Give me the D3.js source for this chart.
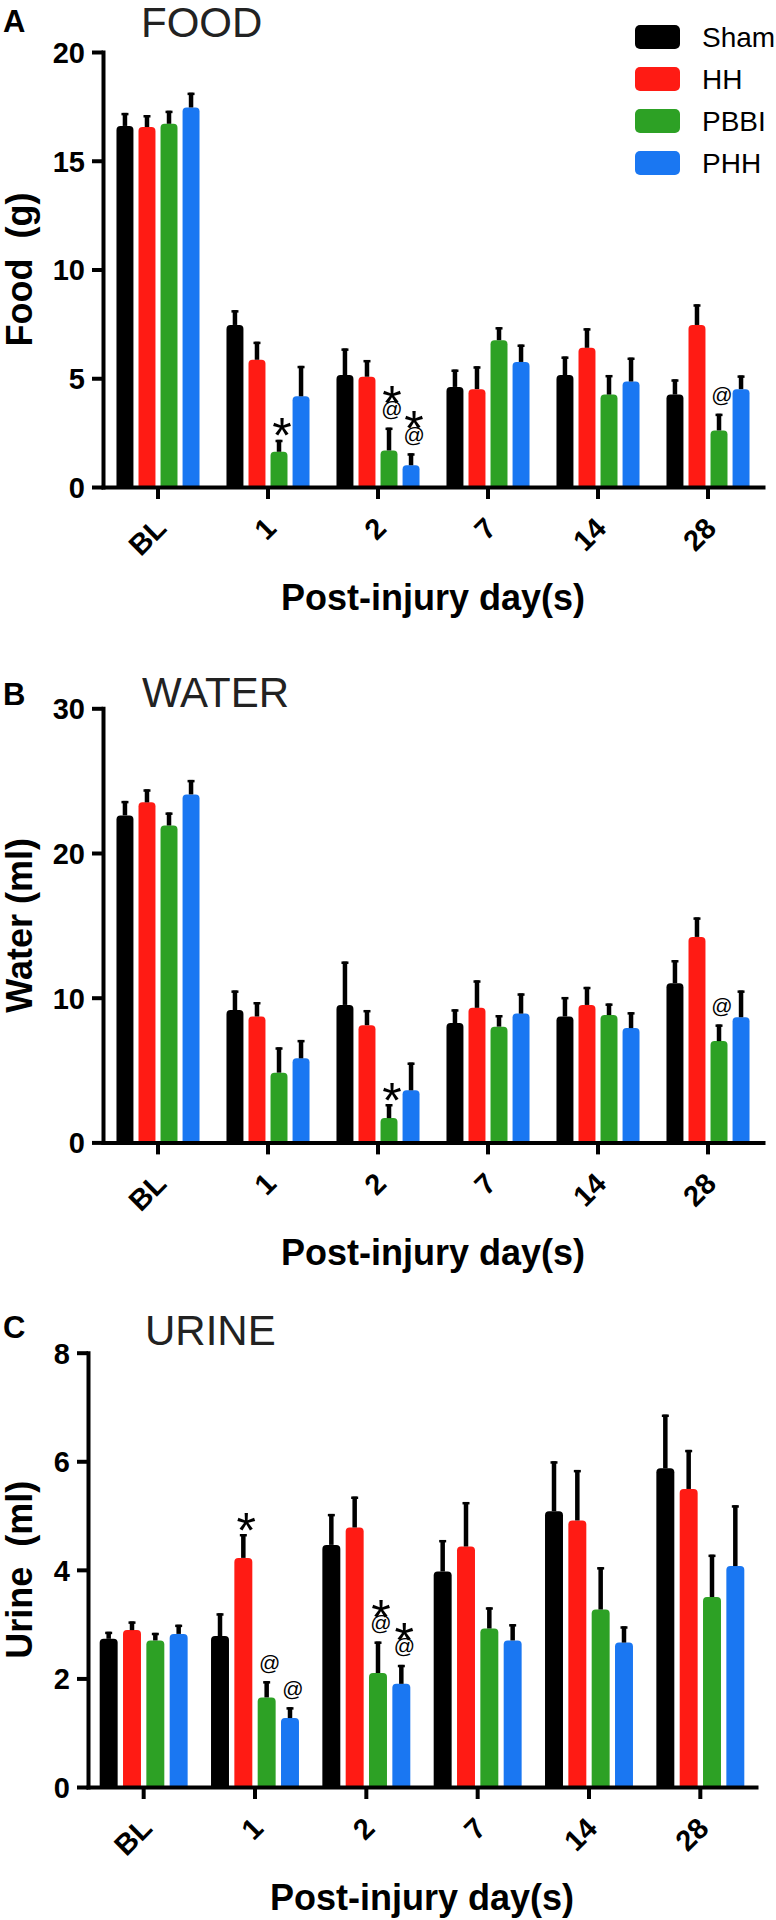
<!DOCTYPE html>
<html><head><meta charset="utf-8">
<script src="https://cdn.jsdelivr.net/npm/d3@7"></script>
<style>
html,body{margin:0;padding:0;background:#fff;}
svg{display:block;}
text{font-family:"Liberation Sans",Arial,Helvetica,sans-serif;}
</style></head><body>
<svg id="chart" width="776" height="1920"></svg>
<script>
// ---------- data ----------
const days = ["BL","1","2","7","14","28"];
const groups = ["Sham","HH","PBBI","PHH"];

const foodSham = [16.6, 7.45, 5.15, 4.6, 5.15, 4.25];
const foodHH   = [16.55, 5.85, 5.07, 4.5, 6.4, 7.45];
const foodPBBI = [16.7, 1.62, 1.68, 6.75, 4.25, 2.6];
const foodPHH  = [17.45, 4.17, 1.0, 5.75, 4.85, 4.5];
const foodShamErr = [0.6, 0.68, 1.22, 0.8, 0.85, 0.7];
const foodHHErr   = [0.55, 0.83, 0.77, 1.05, 0.9, 0.95];
const foodPBBIErr = [0.6, 0.55, 1.05, 0.6, 0.9, 0.77];
const foodPHHErr  = [0.68, 1.4, 0.55, 0.8, 1.1, 0.63];

const waterSham = [22.6, 9.15, 9.5, 8.25, 8.7, 11.0];
const waterHH   = [23.5, 8.7, 8.1, 9.3, 9.5, 14.2];
const waterPBBI = [21.9, 4.82, 1.68, 8.0, 8.8, 7.0];
const waterPHH  = [24.05, 5.81, 3.6, 8.9, 7.9, 8.65];
const waterShamErr = [1.0, 1.35, 3.0, 0.95, 1.35, 1.6];
const waterHHErr   = [0.9, 1.0, 1.05, 1.9, 1.25, 1.35];
const waterPBBIErr = [0.9, 1.75, 0.97, 0.8, 0.8, 1.15];
const waterPHHErr  = [1.0, 1.27, 1.92, 1.4, 1.1, 1.85];

const urineSham = [2.73, 2.78, 4.46, 3.97, 5.08, 5.87];
const urineHH   = [2.89, 4.22, 4.78, 4.43, 4.91, 5.49];
const urinePBBI = [2.7, 1.65, 2.1, 2.92, 3.27, 3.5];
const urinePHH  = [2.82, 1.27, 1.9, 2.7, 2.66, 4.07];
const urineShamErr = [0.13, 0.42, 0.57, 0.58, 0.92, 0.99];
const urineHHErr   = [0.16, 0.44, 0.57, 0.82, 0.93, 0.72];
const urinePBBIErr = [0.14, 0.3, 0.58, 0.39, 0.78, 0.78];
const urinePHHErr  = [0.17, 0.2, 0.35, 0.3, 0.3, 1.12];

const foodTicks  = [0, 5, 10, 15, 20];
const waterTicks = [0, 10, 20, 30];
const urineTicks = [0, 2, 4, 6, 8];

// significance marks: [day, group, symbols bottom-to-top]
const foodMarks  = [["1","PBBI","*"], ["2","PBBI","@*"], ["2","PHH","@*"], ["28","PBBI","@"]];
const waterMarks = [["2","PBBI","*"], ["28","PBBI","@"]];
const urineMarks = [["1","HH","*"], ["1","PBBI","@"], ["1","PHH","@"], ["2","PBBI","@*"], ["2","PHH","@*"]];

// ---------- style ----------
const colors = {Sham:"#000000", HH:"#ff1b14", PBBI:"#2da125", PHH:"#1a77f2"};
const FONT = '"Liberation Sans",Arial,Helvetica,sans-serif';
const svg = d3.select("#chart");

function drawPanel(cfg){
  const g = svg.append("g");
  const x0 = d3.scaleBand().domain(days).range(cfg.xRange)
      .paddingInner(cfg.padIn).paddingOuter(cfg.padIn/2);
  const x1 = d3.scaleBand().domain(groups).range([0, x0.bandwidth()]).paddingInner(0.23);
  const y = d3.scaleLinear().domain(cfg.yDomain).range(cfg.yRange);

  const rows = [];
  groups.forEach((gr, gi) => days.forEach((d, di) =>
    rows.push({day:d, group:gr, v:cfg.means[gi][di], e:cfg.errs[gi][di]})));
  const bx = d => x0(d.day) + x1(d.group);
  const cx = d => bx(d) + x1.bandwidth()/2;
  const bw = x1.bandwidth();
  const r = 4;

  // bars with rounded tops
  g.append("g").selectAll("path").data(rows).join("path")
    .attr("d", d => {
      const L = bx(d), R = L + bw, T = y(d.v), B = y(0);
      return `M${L},${B}V${T+r}Q${L},${T} ${L+r},${T}H${R-r}Q${R},${T} ${R},${T+r}V${B}Z`;
    })
    .attr("fill", d => colors[d.group]);

  // error bars (upper only)
  const eg = g.append("g");
  eg.selectAll("line.e").data(rows).join("line").attr("class","e")
    .attr("x1", cx).attr("x2", cx)
    .attr("y1", d => y(d.v)).attr("y2", d => y(d.v + d.e))
    .attr("stroke", "#000").attr("stroke-width", 4.5);
  eg.selectAll("line.c").data(rows).join("line").attr("class","c")
    .attr("x1", d => cx(d) - 3.5).attr("x2", d => cx(d) + 3.5)
    .attr("y1", d => y(d.v + d.e) + 1.2).attr("y2", d => y(d.v + d.e) + 1.2)
    .attr("stroke", "#000").attr("stroke-width", 2.5);

  // axes
  const yAxis = d3.axisLeft(y).tickValues(cfg.yTicks).tickSize(11).tickSizeOuter(0).tickPadding(7)
      .tickFormat(d3.format("d"));
  const ya = g.append("g").attr("transform", `translate(${cfg.xRange[0]},0)`).call(yAxis);
  const xAxis = d3.axisBottom(x0).tickSize(12).tickSizeOuter(0);
  const xa = g.append("g").attr("transform", `translate(0,${y(0)})`).call(xAxis);
  [ya, xa].forEach(a => {
    a.select(".domain").attr("stroke", "#000").attr("stroke-width", 4).attr("stroke-linecap","square");
    a.selectAll(".tick line").attr("stroke", "#000").attr("stroke-width", 4);
    a.selectAll("text").attr("font-family", FONT).attr("font-weight", "bold")
      .attr("font-size", 29).attr("fill", "#000");
  });
  ya.selectAll("text").attr("dy", "0.36em");
  xa.selectAll("text").attr("x", 0).attr("y", 0).attr("dy", 0)
    .attr("text-anchor", "end").attr("transform", "translate(10,43) rotate(-45)");

  // axis titles
  const yMid = (cfg.yRange[0] + cfg.yRange[1]) / 2;
  g.append("text").attr("transform", `translate(32,${yMid}) rotate(-90)`)
    .attr("text-anchor", "middle").attr("font-size", 36).attr("font-weight", "bold")
    .style("white-space", "pre").attr("font-family", FONT).text(cfg.yTitle);
  g.append("text").attr("x", (cfg.xRange[0] + cfg.xRange[1]) / 2).attr("y", y(0) + 123)
    .attr("text-anchor", "middle").attr("font-size", 36).attr("font-weight", "bold")
    .attr("font-family", FONT).text("Post-injury day(s)");

  // panel letter & title
  g.append("text").attr("x", 3).attr("y", cfg.letterY).attr("font-size", 31)
    .attr("font-weight", "bold").attr("font-family", FONT).text(cfg.letter);
  g.append("text").attr("x", cfg.titleX).attr("y", cfg.titleY).attr("font-size", 42)
    .attr("fill", "#222").attr("font-family", FONT).text(cfg.title);

  // significance marks: one text element per stack, one tspan per symbol
  const mg = g.append("g");
  cfg.marks.forEach(([day, grp, syms]) => {
    const d = rows.find(o => o.day === day && o.group === grp);
    let cursor = y(d.v + d.e) - 8; // ink bottom of lowest symbol
    const mx = cx(d) + 3;
    const t = mg.append("text").attr("text-anchor", "middle").attr("font-family", FONT);
    for (const s of syms) {
      if (s === "@") {
        const fs = 21;
        t.append("tspan").attr("x", mx).attr("y", cursor - 0.16*fs)
          .attr("font-size", fs).text("@");
        cursor -= 0.88*fs + 2;
      } else {
        const fs = 50;
        t.append("tspan").attr("x", mx).attr("y", cursor + 0.43*fs)
          .attr("font-size", fs).text("*");
        cursor -= 0.29*fs + 3;
      }
    }
  });
}

drawPanel({
  letter:"A", letterY:32, title:"FOOD", titleX:141, titleY:37,
  yTitle:"Food  (g)", xRange:[103, 763], padIn:0.245, yRange:[487, 52], yDomain:[0, 20],
  yTicks: foodTicks,
  means:[foodSham, foodHH, foodPBBI, foodPHH],
  errs:[foodShamErr, foodHHErr, foodPBBIErr, foodPHHErr],
  marks: foodMarks
});
drawPanel({
  letter:"B", letterY:705, title:"WATER", titleX:142, titleY:707,
  yTitle:"Water (ml)", xRange:[103, 763], padIn:0.245, yRange:[1142.4, 708.3], yDomain:[0, 30],
  yTicks: waterTicks,
  means:[waterSham, waterHH, waterPBBI, waterPHH],
  errs:[waterShamErr, waterHHErr, waterPBBIErr, waterPHHErr],
  marks: waterMarks
});
drawPanel({
  letter:"C", letterY:1338, title:"URINE", titleX:145, titleY:1345,
  yTitle:"Urine  (ml)", xRange:[88, 756], padIn:0.21, yRange:[1787, 1352.7], yDomain:[0, 8],
  yTicks: urineTicks,
  means:[urineSham, urineHH, urinePBBI, urinePHH],
  errs:[urineShamErr, urineHHErr, urinePBBIErr, urinePHHErr],
  marks: urineMarks
});

// legend (panel A)
const lg = svg.append("g");
const legY = d3.scalePoint().domain(groups).range([37, 163]);
lg.selectAll("rect").data(groups).join("rect")
  .attr("x", 635).attr("y", d => legY(d) - 12).attr("width", 45).attr("height", 24)
  .attr("rx", 5).attr("fill", d => colors[d]);
lg.selectAll("text").data(groups).join("text")
  .attr("x", 702).attr("y", d => legY(d) + 10).attr("font-size", 28)
  .attr("font-family", FONT).attr("fill", "#000").text(d => d);
</script>
</body></html>
